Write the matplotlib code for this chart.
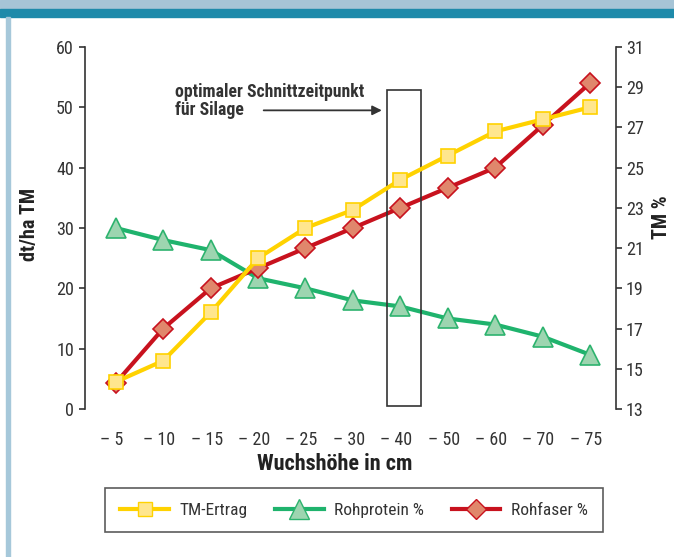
import matplotlib
matplotlib.use('Agg')
import matplotlib.pyplot as plt
import matplotlib.transforms as mtransforms
from matplotlib.patches import Rectangle
from matplotlib.lines import Line2D

# data
hoehe = ['5', '10', '15', '20', '25', '30', '40', '50', '60', '70', '75']
tm_ertrag = [4.5, 8, 16, 25, 30, 33, 38, 42, 46, 48, 50]          # dt/ha TM (left)
rohprotein = [22.0, 21.4, 20.9, 19.5, 19.0, 18.4, 18.1, 17.5, 17.2, 16.6, 15.7]  # % (right)
rohfaser = [14.3, 17.0, 19.0, 20.0, 21.0, 22.0, 23.0, 24.0, 25.0, 27.1, 29.2]    # % (right)

tick_labels = ['\u2013 ' + h for h in hoehe]
optimal_idx = hoehe.index('40')

plt.rcParams['font.family'] = ['Roboto Condensed', 'DejaVu Sans']
txt = '#333333'

fig = plt.figure(figsize=(6.74, 5.57), dpi=100)

# header bands and left bar
fig.patches.append(Rectangle((0, 1 - 9 / 557), 1, 9 / 557, transform=fig.transFigure,
                             color='#a6c4d6', zorder=0))
fig.patches.append(Rectangle((0, 1 - 17 / 557), 1, 8 / 557, transform=fig.transFigure,
                             color='#1e8aaa', zorder=0))
fig.patches.append(Rectangle((6 / 674, 0), 4 / 674, 1 - 17 / 557, transform=fig.transFigure,
                             color='#a6c8da', zorder=0))

ax = fig.add_axes([85 / 674, 148 / 557, 531 / 674, 362 / 557])
ax2 = ax.twinx()
ax.set_zorder(ax2.get_zorder() + 1)
ax.patch.set_visible(False)

x = list(range(len(hoehe)))

ax2.plot(x, rohprotein, color='#1fb36d', lw=3, marker='^', ms=14,
         mfc='#9dd5b0', mec='#2db36e', mew=1.2)
ax2.plot(x, rohfaser, color='#c8121e', lw=3, marker='D', ms=10.5,
         mfc='#e0876c', mec='#c8121e', mew=1.2)
ax.plot(x, tm_ertrag, color='#ffd200', lw=3, marker='s', ms=10.5,
        mfc='#ffe68e', mec='#ffd200', mew=1.2, zorder=5)

# box for optimal cutting time
ax.add_patch(Rectangle((optimal_idx - 0.28, 0.55), 0.71, 52.25, fill=False,
                       ec='#333333', lw=1.2, zorder=1))
ax.annotate('', xy=(optimal_idx - 0.33, 49.5), xytext=(3.06, 49.5),
            arrowprops=dict(arrowstyle='-|>', color='#333333', lw=1.3,
                            mutation_scale=14))
ax.text(1.245, 51.0, 'optimaler Schnittzeitpunkt\nfür Silage', ha='left', va='center',
        fontsize=12.75, fontweight='bold', color=txt, linespacing=1.0)

ax.set_xlim(-0.65, 10.55)
ax.set_ylim(0, 60)
ax2.set_ylim(13, 31)
ax.set_yticks(range(0, 61, 10))
ax2.set_yticks(range(13, 32, 2))
ax.set_xticks(x)
ax.set_xticklabels(tick_labels)

for a in (ax, ax2):
    a.spines['top'].set_visible(False)
    a.spines['bottom'].set_visible(False)
    for s in ('left', 'right'):
        a.spines[s].set_color('#333333')
        a.spines[s].set_linewidth(1.2)
ax.spines['right'].set_visible(False)
ax2.spines['left'].set_visible(False)

ax.tick_params(axis='y', direction='out', length=4, width=1.2, color='#333333',
               labelsize=13, labelcolor=txt, pad=4)
ax2.tick_params(axis='y', direction='out', length=4, width=1.2, color='#333333',
                labelsize=13, labelcolor=txt, pad=3)
ax.tick_params(axis='x', length=0, labelsize=13, labelcolor=txt, pad=16)

# x labels sit a little left of the points
shift = mtransforms.ScaledTranslation(-4 / 100, 0, fig.dpi_scale_trans)
for lbl in ax.get_xticklabels():
    lbl.set_transform(lbl.get_transform() + shift)

ax.set_ylabel('dt/ha TM', fontsize=14.5, fontweight='bold', color='#222222', va='center')
ax.yaxis.set_label_coords(-0.1036, 0.51)
ax2.set_ylabel('TM %', fontsize=14.5, fontweight='bold', color='#222222', va='center')
ax2.yaxis.set_label_coords(1.0866, 0.53)
ax.set_xlabel('Wuchshöhe in cm', fontsize=16, fontweight='bold', color='#222222', va='center')
ax.xaxis.set_label_coords(0.471, -0.152)

handles = [
    Line2D([], [], color='#ffd200', lw=3, marker='s', ms=10.5, mfc='#ffe68e', mec='#ffd200'),
    Line2D([], [], color='#1fb36d', lw=3, marker='^', ms=14, mfc='#9dd5b0', mec='#2db36e'),
    Line2D([], [], color='#c8121e', lw=3, marker='D', ms=10.5, mfc='#e0876c', mec='#c8121e'),
]
leg = fig.legend(handles, ['TM-Ertrag', 'Rohprotein %', 'Rohfaser %'], ncol=3,
                 loc='center', bbox_to_anchor=(354 / 674, 47 / 557), fontsize=12.5,
                 frameon=True, fancybox=False, edgecolor='#333333', handlelength=2.8,
                 handletextpad=0.6, columnspacing=1.6, borderpad=0.85)
leg.get_frame().set_linewidth(1.2)
for t in leg.get_texts():
    t.set_color(txt)

plt.savefig('out.png', dpi=100)
plt.close('all')
